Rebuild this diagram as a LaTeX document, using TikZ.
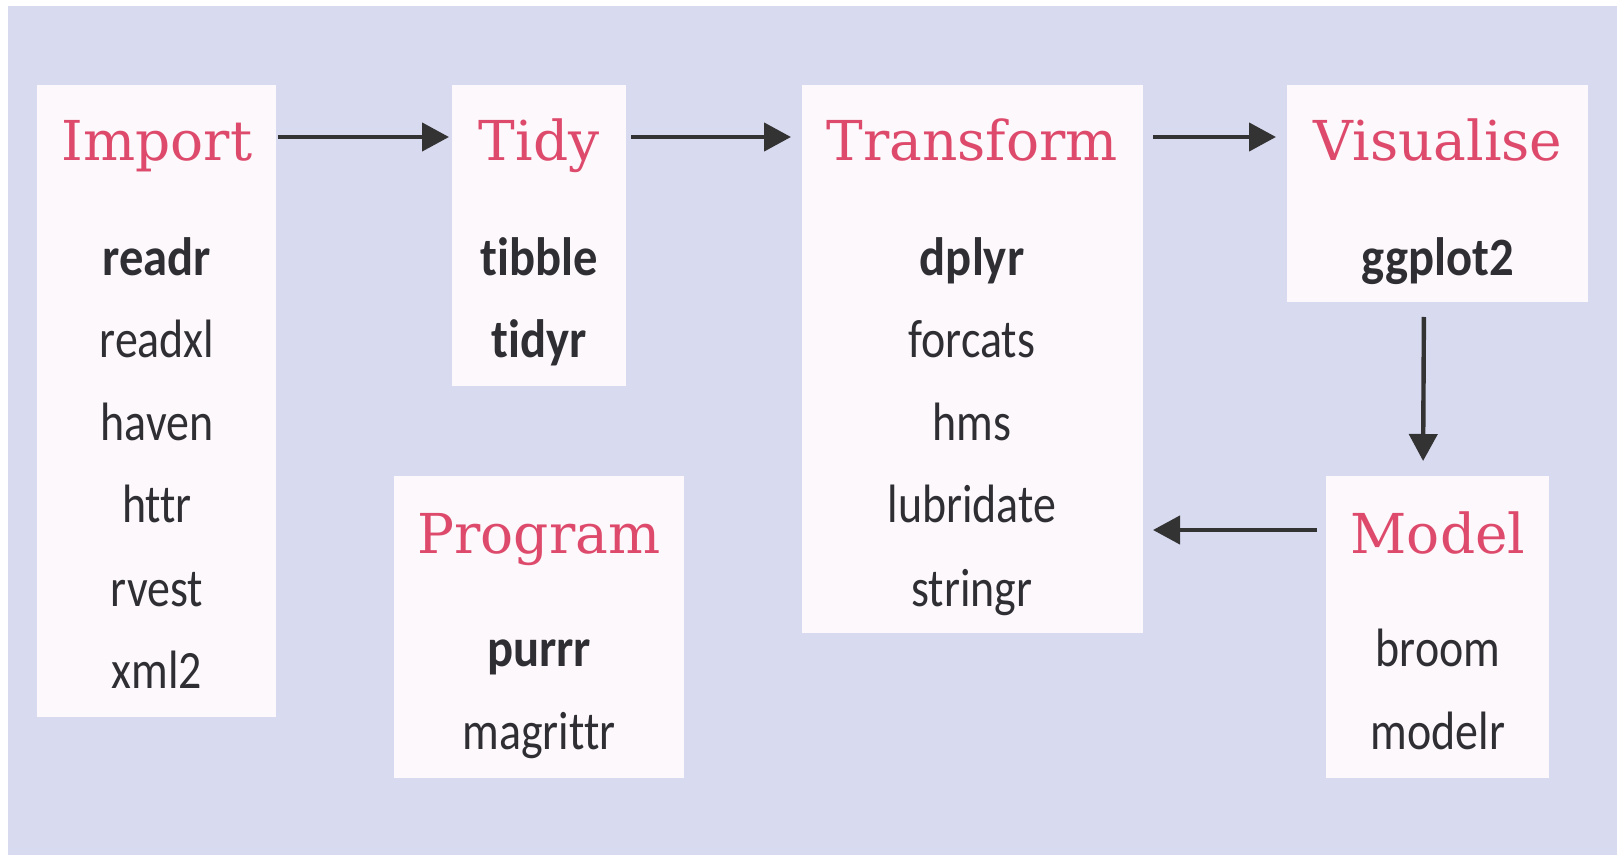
\documentclass[tikz,border=0pt]{standalone}
\usepackage{fontspec}
\usetikzlibrary{arrows.meta,calc}
\newfontfamily\titlefont{DejaVu Serif}
\newfontfamily\itemfont[FakeStretch=0.85,Ligatures=NoCommon]{Carlito}
\newfontfamily\itemboldfont[FakeStretch=0.9,Ligatures=NoCommon]{Carlito}
\definecolor{bgc}{HTML}{D8DAF0}
\definecolor{boxc}{HTML}{FCF8FC}
\definecolor{titlec}{HTML}{DE4A6B}
\definecolor{textc}{HTML}{2F2F33}
\definecolor{arrc}{HTML}{333333}
\begin{document}
\begin{tikzpicture}[x=0.5pt,y=-0.5pt,
  panel/.style={fill=boxc, draw=none, inner sep=0pt, outer sep=0pt, anchor=north west},
  ttl/.style={anchor=base, text=titlec, font=\titlefont\fontsize{27.5}{30}\selectfont, inner sep=0pt},
  itm/.style={anchor=base, text=textc, font=\itemfont\fontsize{27}{30}\selectfont, inner sep=0pt},
  itmb/.style={anchor=base, text=textc, font=\itemboldfont\bfseries\fontsize{27}{30}\selectfont, inner sep=0pt},
  arr/.style={-{Triangle[length=13.5pt,width=14pt]}, line width=2.2pt, draw=arrc}
]
\useasboundingbox (0,0) rectangle (1617,855);
\fill[bgc] (8,6) rectangle (1617,855);

% boxes
\node[panel, minimum width=119.5pt, minimum height=316pt] (imp) at (37,85) {};
\node[panel, minimum width=87pt, minimum height=150.5pt] (tidy) at (452,85) {};
\node[panel, minimum width=170.5pt, minimum height=274pt] (trans) at (802,85) {};
\node[panel, minimum width=150.5pt, minimum height=108.5pt] (vis) at (1287,85) {};
\node[panel, minimum width=145pt, minimum height=151pt] (prog) at (394,476) {};
\node[panel, minimum width=111.5pt, minimum height=151pt] (model) at (1326,476) {};

% Import
\node[ttl] (impT) at (157,161) {Import};
\node[itmb] (imp1) at (157,276) {readr};
\node[itm] (imp2) at (157,358) {readxl};
\node[itm] (imp3) at (157,441) {haven};
\node[itm] (imp4) at (157,523) {httr};
\node[itm] (imp5) at (157,606) {rvest};
\node[itm] (imp6) at (157,688) {xml2};

% Tidy
\node[ttl] (tidyT) at (539,161) {Tidy};
\node[itmb] (tidy1) at (539,276) {tibble};
\node[itmb] (tidy2) at (539,358) {tidyr};

% Transform
\node[ttl] (transT) at (972,161) {Transform};
\node[itmb] (trans1) at (972,276) {dplyr};
\node[itm] (trans2) at (972,358) {forcats};
\node[itm] (trans3) at (972,441) {hms};
\node[itm] (trans4) at (972,523) {lubridate};
\node[itm] (trans5) at (972,606) {stringr};

% Visualise
\node[ttl] (visT) at (1438,161) {Visualise};
\node[itmb] (vis1) at (1438,276) {ggplot2};

% Program
\node[ttl] (progT) at (539,553) {Program};
\node[itmb] (prog1) at (539,666) {purrr};
\node[itm] (prog2) at (539,749) {magrittr};

% Model
\node[ttl] (modelT) at (1438,553) {Model};
\node[itm] (model1) at (1438,666) {broom};
\node[itm] (model2) at (1438,749) {modelr};

% arrows
\draw[arr, shorten <=1pt, shorten >=1.5pt] ($(imp.north east)+(0,52)$) -- ($(tidy.north west)+(0,52)$);
\draw[arr, shorten <=2.5pt, shorten >=5.5pt] ($(tidy.north east)+(0,52)$) -- ($(trans.north west)+(0,52)$);
\draw[arr, shorten <=5pt, shorten >=5.5pt] ($(trans.north east)+(0,52)$) -- ($(vis.north west)+(0,52)$);
\draw[arr, shorten <=7.5pt, shorten >=7.5pt] ($(vis.south west)+(137,0)$) -- ($(model.north west)+(97,0)$);
\draw[arr, shorten <=4.5pt, shorten >=5pt] ($(model.north west)+(0,54)$) -- ($(trans.north east)+(0,445)$);
\end{tikzpicture}
\end{document}
